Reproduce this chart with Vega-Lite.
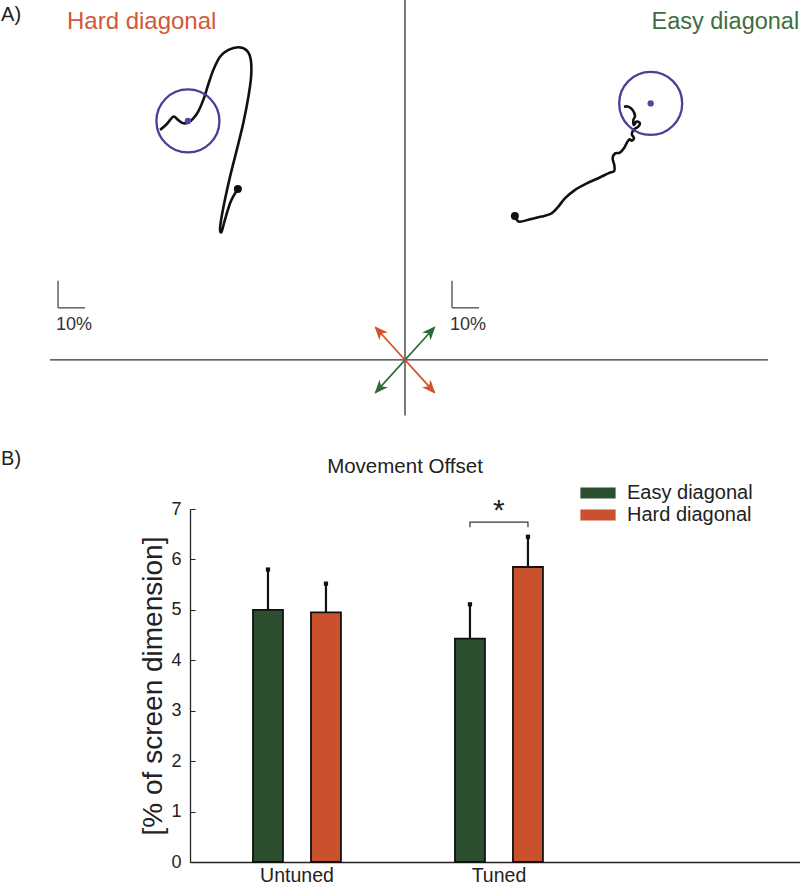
{
  "$schema": "https://vega.github.io/schema/vega-lite/v6.json",
  "width": 800,
  "height": 887,
  "autosize": "none",
  "padding": 0,
  "background": "white",
  "config": {
    "view": {"stroke": null},
    "font": "Liberation Sans",
    "text": {"font": "Liberation Sans"},
    "axis": {"labelFont": "Liberation Sans", "titleFont": "Liberation Sans"},
    "legend": {"labelFont": "Liberation Sans"}
  },
  "datasets": {
    "axesA": [
      {"x": -131.5, "x2": 134.4, "y": 0, "y2": 0},
      {"x": 0, "x2": 0, "y": 133.3, "y2": -20.6}
    ],
    "scalebars": [
      {"x": -128.5, "x2": -128.5, "y": 29.3, "y2": 19.3},
      {"x": -128.5, "x2": -118.5, "y": 19.3, "y2": 19.3},
      {"x": 17.4, "x2": 17.4, "y": 29.3, "y2": 19.3},
      {"x": 17.4, "x2": 27.4, "y": 19.3, "y2": 19.3}
    ],
    "scalelabels": [
      {"x": -129.3, "y": 13.0, "label": "10%"},
      {"x": 16.7, "y": 13.0, "label": "10%"}
    ],
    "arrowEasy": [{"x": -10.9, "y": -12.0, "x2": 10.9, "y2": 12.0}],
    "arrowHard": [{"x": -10.9, "y": 12.0, "x2": 10.9, "y2": -12.0}],
    "headsEasy": [
      {"x": 9.4, "y": 10.4, "heading": 42},
      {"x": -9.4, "y": -10.4, "heading": 222}
    ],
    "headsHard": [
      {"x": -9.4, "y": 10.4, "heading": 318},
      {"x": 9.4, "y": -10.4, "heading": 138}
    ],
    "targets": [
      {"panel": "Hard", "x": -80.4, "y": 88.5},
      {"panel": "Easy", "x": 91.0, "y": 95.0}
    ],
    "starts": [
      {"panel": "Hard", "x": -61.9, "y": 63.3},
      {"panel": "Easy", "x": 40.7, "y": 53.3}
    ],
    "traj": [
      {"traj": "Hard", "i": 1, "x": -90.7, "y": 85.2},
      {"traj": "Hard", "i": 2, "x": -88.3, "y": 87.3},
      {"traj": "Hard", "i": 3, "x": -85.8, "y": 90.1},
      {"traj": "Hard", "i": 4, "x": -84.3, "y": 89.1},
      {"traj": "Hard", "i": 5, "x": -82.3, "y": 87.7},
      {"traj": "Hard", "i": 6, "x": -80.3, "y": 87.9},
      {"traj": "Hard", "i": 7, "x": -78.4, "y": 89.5},
      {"traj": "Hard", "i": 8, "x": -76.6, "y": 92.0},
      {"traj": "Hard", "i": 9, "x": -74.7, "y": 96.3},
      {"traj": "Hard", "i": 10, "x": -72.9, "y": 101.9},
      {"traj": "Hard", "i": 11, "x": -71.0, "y": 107.4},
      {"traj": "Hard", "i": 12, "x": -68.5, "y": 112.3},
      {"traj": "Hard", "i": 13, "x": -65.4, "y": 114.8},
      {"traj": "Hard", "i": 14, "x": -61.7, "y": 115.8},
      {"traj": "Hard", "i": 15, "x": -58.6, "y": 114.6},
      {"traj": "Hard", "i": 16, "x": -57.1, "y": 111.1},
      {"traj": "Hard", "i": 17, "x": -57.0, "y": 104.9},
      {"traj": "Hard", "i": 18, "x": -58.0, "y": 97.5},
      {"traj": "Hard", "i": 19, "x": -59.9, "y": 87.7},
      {"traj": "Hard", "i": 20, "x": -62.3, "y": 77.8},
      {"traj": "Hard", "i": 21, "x": -64.8, "y": 67.9},
      {"traj": "Hard", "i": 22, "x": -66.7, "y": 59.3},
      {"traj": "Hard", "i": 23, "x": -68.1, "y": 51.9},
      {"traj": "Hard", "i": 24, "x": -68.5, "y": 48.1},
      {"traj": "Hard", "i": 25, "x": -67.9, "y": 47.5},
      {"traj": "Hard", "i": 26, "x": -66.7, "y": 51.9},
      {"traj": "Hard", "i": 27, "x": -64.8, "y": 58.0},
      {"traj": "Hard", "i": 28, "x": -63.3, "y": 61.1},
      {"traj": "Hard", "i": 29, "x": -62.0, "y": 63.0},
      {"traj": "Easy", "i": 1, "x": 40.7, "y": 53.3},
      {"traj": "Easy", "i": 2, "x": 42.3, "y": 51.2},
      {"traj": "Easy", "i": 3, "x": 46.3, "y": 52.1},
      {"traj": "Easy", "i": 4, "x": 50.6, "y": 53.1},
      {"traj": "Easy", "i": 5, "x": 54.3, "y": 54.3},
      {"traj": "Easy", "i": 6, "x": 56.8, "y": 56.8},
      {"traj": "Easy", "i": 7, "x": 59.3, "y": 59.9},
      {"traj": "Easy", "i": 8, "x": 63.0, "y": 63.0},
      {"traj": "Easy", "i": 9, "x": 67.3, "y": 65.4},
      {"traj": "Easy", "i": 10, "x": 71.6, "y": 67.3},
      {"traj": "Easy", "i": 11, "x": 75.3, "y": 69.1},
      {"traj": "Easy", "i": 12, "x": 77.5, "y": 70.0},
      {"traj": "Easy", "i": 13, "x": 77.5, "y": 72.2},
      {"traj": "Easy", "i": 14, "x": 76.9, "y": 74.7},
      {"traj": "Easy", "i": 15, "x": 77.8, "y": 76.5},
      {"traj": "Easy", "i": 16, "x": 79.6, "y": 76.8},
      {"traj": "Easy", "i": 17, "x": 81.1, "y": 78.4},
      {"traj": "Easy", "i": 18, "x": 82.1, "y": 80.3},
      {"traj": "Easy", "i": 19, "x": 83.1, "y": 81.7},
      {"traj": "Easy", "i": 20, "x": 84.0, "y": 81.2},
      {"traj": "Easy", "i": 21, "x": 84.8, "y": 82.1},
      {"traj": "Easy", "i": 22, "x": 84.0, "y": 83.7},
      {"traj": "Easy", "i": 23, "x": 84.8, "y": 85.4},
      {"traj": "Easy", "i": 24, "x": 86.4, "y": 86.4},
      {"traj": "Easy", "i": 25, "x": 87.0, "y": 87.7},
      {"traj": "Easy", "i": 26, "x": 85.8, "y": 88.3},
      {"traj": "Easy", "i": 27, "x": 84.8, "y": 87.0},
      {"traj": "Easy", "i": 28, "x": 84.6, "y": 88.9},
      {"traj": "Easy", "i": 29, "x": 85.2, "y": 90.4},
      {"traj": "Easy", "i": 30, "x": 84.3, "y": 92.6},
      {"traj": "Easy", "i": 31, "x": 82.7, "y": 93.8},
      {"traj": "Easy", "i": 32, "x": 81.1, "y": 93.8}
    ],
    "panelLabels": [
      {"x": -149.6, "y": 125.6, "label": "A)"},
      {"x": -149.6, "y": -38.9, "label": "B)"}
    ],
    "hardTitle": [{"x": -125.2, "y": 122.5, "label": "Hard diagonal"}],
    "easyTitle": [{"x": 91.3, "y": 122.5, "label": "Easy diagonal"}],
    "chartTitle": [{"x": 0, "y": -39.6, "label": "Movement Offset"}],
    "bars": [
      {"condition": "Untuned", "diag": "Easy diagonal", "value": 5.0, "upper": 5.8},
      {"condition": "Untuned", "diag": "Hard diagonal", "value": 4.95, "upper": 5.52},
      {"condition": "Tuned", "diag": "Easy diagonal", "value": 4.43, "upper": 5.11},
      {"condition": "Tuned", "diag": "Hard diagonal", "value": 5.85, "upper": 6.45}
    ],
    "bracket": [
      {"condition": "Tuned", "diag": "Easy diagonal", "value": 6.64, "i": 1},
      {"condition": "Tuned", "diag": "Easy diagonal", "value": 6.74, "i": 2},
      {"condition": "Tuned", "diag": "Hard diagonal", "value": 6.74, "i": 3},
      {"condition": "Tuned", "diag": "Hard diagonal", "value": 6.64, "i": 4}
    ],
    "star": [{"condition": "Tuned", "value": 6.78, "label": "*"}]
  },
  "layer": [
    {
      "layer": [
        {
          "data": {"name": "axesA"},
          "mark": {"type": "rule", "color": "#333333", "strokeWidth": 1.3},
          "encoding": {
            "x": {"field": "x", "type": "quantitative", "scale": {"domain": [-150, 146.3], "nice": false, "zero": false}, "axis": null},
            "y": {"field": "y", "type": "quantitative", "scale": {"domain": [-195.2, 133.3], "nice": false, "zero": false}, "axis": null},
            "x2": {"field": "x2"},
            "y2": {"field": "y2"}
          }
        },
        {
          "data": {"name": "scalebars"},
          "mark": {"type": "rule", "color": "#555555", "strokeWidth": 1.4},
          "encoding": {
            "x": {"field": "x", "type": "quantitative", "scale": {"domain": [-150, 146.3], "nice": false, "zero": false}, "axis": null},
            "y": {"field": "y", "type": "quantitative", "scale": {"domain": [-195.2, 133.3], "nice": false, "zero": false}, "axis": null},
            "x2": {"field": "x2"},
            "y2": {"field": "y2"}
          }
        },
        {
          "data": {"name": "scalelabels"},
          "mark": {"type": "text", "fontSize": 18, "align": "left", "baseline": "middle", "color": "#333333"},
          "encoding": {
            "x": {"field": "x", "type": "quantitative", "scale": {"domain": [-150, 146.3], "nice": false, "zero": false}, "axis": null},
            "y": {"field": "y", "type": "quantitative", "scale": {"domain": [-195.2, 133.3], "nice": false, "zero": false}, "axis": null},
            "text": {"field": "label"}
          }
        },
        {
          "data": {"name": "arrowEasy"},
          "mark": {"type": "rule", "color": "#2e6a34", "strokeWidth": 1.7},
          "encoding": {
            "x": {"field": "x", "type": "quantitative", "scale": {"domain": [-150, 146.3], "nice": false, "zero": false}, "axis": null},
            "y": {"field": "y", "type": "quantitative", "scale": {"domain": [-195.2, 133.3], "nice": false, "zero": false}, "axis": null},
            "x2": {"field": "x2"},
            "y2": {"field": "y2"}
          }
        },
        {
          "data": {"name": "arrowHard"},
          "mark": {"type": "rule", "color": "#d3502a", "strokeWidth": 1.7},
          "encoding": {
            "x": {"field": "x", "type": "quantitative", "scale": {"domain": [-150, 146.3], "nice": false, "zero": false}, "axis": null},
            "y": {"field": "y", "type": "quantitative", "scale": {"domain": [-195.2, 133.3], "nice": false, "zero": false}, "axis": null},
            "x2": {"field": "x2"},
            "y2": {"field": "y2"}
          }
        },
        {
          "data": {"name": "headsEasy"},
          "mark": {"type": "point", "shape": "M0,-1L0.75,0.8L0,0.3L-0.75,0.8Z", "filled": true, "size": 230, "color": "#2e6a34", "opacity": 1},
          "encoding": {
            "x": {"field": "x", "type": "quantitative", "scale": {"domain": [-150, 146.3], "nice": false, "zero": false}, "axis": null},
            "y": {"field": "y", "type": "quantitative", "scale": {"domain": [-195.2, 133.3], "nice": false, "zero": false}, "axis": null},
            "angle": {"field": "heading", "type": "quantitative", "scale": {"domain": [0, 360], "range": [0, 360]}, "legend": null}
          }
        },
        {
          "data": {"name": "headsHard"},
          "mark": {"type": "point", "shape": "M0,-1L0.75,0.8L0,0.3L-0.75,0.8Z", "filled": true, "size": 230, "color": "#d3502a", "opacity": 1},
          "encoding": {
            "x": {"field": "x", "type": "quantitative", "scale": {"domain": [-150, 146.3], "nice": false, "zero": false}, "axis": null},
            "y": {"field": "y", "type": "quantitative", "scale": {"domain": [-195.2, 133.3], "nice": false, "zero": false}, "axis": null},
            "angle": {"field": "heading", "type": "quantitative", "scale": {"domain": [0, 360], "range": [0, 360]}, "legend": null}
          }
        },
        {
          "data": {"name": "traj"},
          "mark": {"type": "line", "color": "#111111", "strokeWidth": 2.6, "interpolate": "cardinal"},
          "encoding": {
            "x": {"field": "x", "type": "quantitative", "scale": {"domain": [-150, 146.3], "nice": false, "zero": false}, "axis": null},
            "y": {"field": "y", "type": "quantitative", "scale": {"domain": [-195.2, 133.3], "nice": false, "zero": false}, "axis": null},
            "detail": {"field": "traj"},
            "order": {"field": "i", "type": "quantitative"}
          }
        },
        {
          "data": {"name": "targets"},
          "mark": {"type": "point", "shape": "circle", "filled": false, "size": 3969, "stroke": "#4a3e99", "strokeWidth": 2.3, "opacity": 1},
          "encoding": {
            "x": {"field": "x", "type": "quantitative", "scale": {"domain": [-150, 146.3], "nice": false, "zero": false}, "axis": null},
            "y": {"field": "y", "type": "quantitative", "scale": {"domain": [-195.2, 133.3], "nice": false, "zero": false}, "axis": null}
          }
        },
        {
          "data": {"name": "targets"},
          "mark": {"type": "point", "shape": "circle", "filled": true, "size": 40, "color": "#4d49a0", "opacity": 1},
          "encoding": {
            "x": {"field": "x", "type": "quantitative", "scale": {"domain": [-150, 146.3], "nice": false, "zero": false}, "axis": null},
            "y": {"field": "y", "type": "quantitative", "scale": {"domain": [-195.2, 133.3], "nice": false, "zero": false}, "axis": null}
          }
        },
        {
          "data": {"name": "starts"},
          "mark": {"type": "point", "shape": "circle", "filled": true, "size": 64, "color": "#111111", "opacity": 1},
          "encoding": {
            "x": {"field": "x", "type": "quantitative", "scale": {"domain": [-150, 146.3], "nice": false, "zero": false}, "axis": null},
            "y": {"field": "y", "type": "quantitative", "scale": {"domain": [-195.2, 133.3], "nice": false, "zero": false}, "axis": null}
          }
        },
        {
          "data": {"name": "panelLabels"},
          "mark": {"type": "text", "fontSize": 20, "align": "left", "baseline": "alphabetic", "color": "#222222"},
          "encoding": {
            "x": {"field": "x", "type": "quantitative", "scale": {"domain": [-150, 146.3], "nice": false, "zero": false}, "axis": null},
            "y": {"field": "y", "type": "quantitative", "scale": {"domain": [-195.2, 133.3], "nice": false, "zero": false}, "axis": null},
            "text": {"field": "label"}
          }
        },
        {
          "data": {"name": "hardTitle"},
          "mark": {"type": "text", "fontSize": 24, "align": "left", "baseline": "alphabetic", "color": "#d2583a"},
          "encoding": {
            "x": {"field": "x", "type": "quantitative", "scale": {"domain": [-150, 146.3], "nice": false, "zero": false}, "axis": null},
            "y": {"field": "y", "type": "quantitative", "scale": {"domain": [-195.2, 133.3], "nice": false, "zero": false}, "axis": null},
            "text": {"field": "label"}
          }
        },
        {
          "data": {"name": "easyTitle"},
          "mark": {"type": "text", "fontSize": 23.5, "align": "left", "baseline": "alphabetic", "color": "#3f6e3f"},
          "encoding": {
            "x": {"field": "x", "type": "quantitative", "scale": {"domain": [-150, 146.3], "nice": false, "zero": false}, "axis": null},
            "y": {"field": "y", "type": "quantitative", "scale": {"domain": [-195.2, 133.3], "nice": false, "zero": false}, "axis": null},
            "text": {"field": "label"}
          }
        },
        {
          "data": {"name": "chartTitle"},
          "mark": {"type": "text", "fontSize": 20.5, "align": "center", "baseline": "middle", "color": "#222222"},
          "encoding": {
            "x": {"field": "x", "type": "quantitative", "scale": {"domain": [-150, 146.3], "nice": false, "zero": false}, "axis": null},
            "y": {"field": "y", "type": "quantitative", "scale": {"domain": [-195.2, 133.3], "nice": false, "zero": false}, "axis": null},
            "text": {"field": "label"}
          }
        }
      ]
    },
    {
      "layer": [
        {
          "data": {"name": "bars"},
          "mark": {"type": "bar", "stroke": "#111111", "strokeWidth": 1.8},
          "encoding": {
            "x": {
              "field": "condition", "type": "nominal",
              "scale": {"domain": ["Untuned", "Tuned"], "range": [190, 800], "paddingInner": 0, "paddingOuter": 0.51, "align": 0.029},
              "axis": {"title": null, "orient": "bottom", "offset": -25, "ticks": false, "labelFontSize": 19.5, "labelPadding": 4, "labelDx": 6, "labelAngle": 0, "labelColor": "#222222", "domainColor": "#222222", "domainWidth": 1.3}
            },
            "xOffset": {"field": "diag", "type": "nominal", "scale": {"domain": ["Easy diagonal", "Hard diagonal"], "paddingInner": 0.483, "paddingOuter": 0.983}},
            "y": {
              "field": "value", "type": "quantitative",
              "scale": {"domain": [0, 7], "range": [862, 509], "nice": false, "zero": true},
              "axis": {"orient": "left", "offset": -190, "values": [0, 1, 2, 3, 4, 5, 6, 7], "format": "d", "tickSize": -5, "labelPadding": 14, "labelFontSize": 18, "labelColor": "#222222", "tickColor": "#222222", "domainColor": "#222222", "domainWidth": 1.3, "grid": false, "title": "[% of screen dimension]", "titleFontSize": 28, "titleFontWeight": "normal", "titleColor": "#222222", "titlePadding": 3}
            },
            "color": {
              "field": "diag", "type": "nominal",
              "scale": {"domain": ["Easy diagonal", "Hard diagonal"], "range": ["#2c4f2f", "#c9512d"]},
              "legend": {"orient": "none", "legendX": 587, "legendY": 482, "title": null, "symbolType": "M-1.6,-0.5H1.6V0.5H-1.6Z", "symbolSize": 484, "symbolStrokeWidth": 0, "labelFontSize": 20, "labelOffset": 18, "rowPadding": 1, "labelColor": "#222222"}
            }
          }
        },
        {
          "data": {"name": "bars"},
          "mark": {"type": "rule", "color": "#111111", "strokeWidth": 2.2},
          "encoding": {
            "x": {"field": "condition", "type": "nominal"},
            "xOffset": {"field": "diag", "type": "nominal"},
            "y": {"field": "value", "type": "quantitative"},
            "y2": {"field": "upper"}
          }
        },
        {
          "data": {"name": "bars"},
          "mark": {"type": "point", "shape": "square", "filled": true, "size": 18, "color": "#111111", "opacity": 1},
          "encoding": {
            "x": {"field": "condition", "type": "nominal"},
            "xOffset": {"field": "diag", "type": "nominal"},
            "y": {"field": "upper", "type": "quantitative"}
          }
        },
        {
          "data": {"name": "bracket"},
          "mark": {"type": "line", "color": "#333333", "strokeWidth": 1.2},
          "encoding": {
            "x": {"field": "condition", "type": "nominal"},
            "xOffset": {"field": "diag", "type": "nominal"},
            "y": {"field": "value", "type": "quantitative"},
            "order": {"field": "i", "type": "quantitative"}
          }
        },
        {
          "data": {"name": "star"},
          "mark": {"type": "text", "fontSize": 30, "align": "center", "baseline": "alphabetic", "color": "#222222"},
          "encoding": {
            "x": {"field": "condition", "type": "nominal"},
            "y": {"field": "value", "type": "quantitative"},
            "text": {"field": "label"}
          }
        }
      ]
    }
  ],
  "resolve": {"scale": {"x": "independent", "y": "independent"}}
}
